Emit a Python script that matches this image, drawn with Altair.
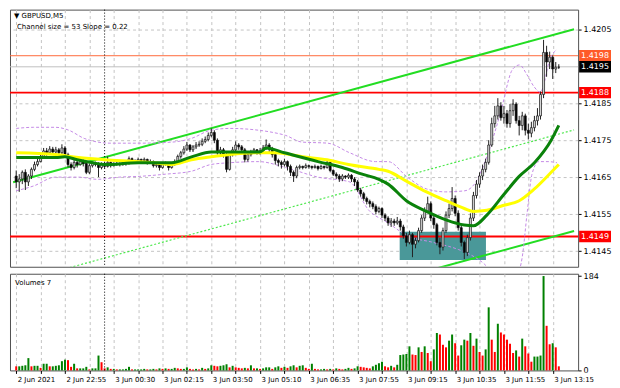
import altair as alt
import pandas as pd

# ---------------- data ----------------
x_labels = ["2 Jun 2021", "2 Jun 22:55", "3 Jun 00:30", "3 Jun 02:15", "3 Jun 03:50",
            "3 Jun 05:10", "3 Jun 06:35", "3 Jun 07:55", "3 Jun 09:15", "3 Jun 10:35",
            "3 Jun 11:55", "3 Jun 13:15"]

first_open = 1.41654
closes = [
    1.41638, 1.41646, 1.41664, 1.41638, 1.41654, 1.41672, 1.41685, 1.41693, 1.41707, 1.41722,
    1.41717, 1.41727, 1.41719, 1.41725, 1.41717, 1.41730, 1.41712, 1.41685, 1.41677, 1.41691,
    1.41685, 1.41693, 1.41688, 1.41664, 1.41682, 1.41688, 1.41685, 1.41677, 1.41685, 1.41680,
    1.41691, 1.41682, 1.41685, 1.41688, 1.41685, 1.41691, 1.41688, 1.41701, 1.41696, 1.41693,
    1.41699, 1.41696, 1.41699, 1.41691, 1.41693, 1.41682, 1.41685, 1.41677, 1.41685, 1.41688,
    1.41677, 1.41685, 1.41693, 1.41707, 1.41717, 1.41727, 1.41738, 1.41725, 1.41733, 1.41738,
    1.41740, 1.41748, 1.41753, 1.41764, 1.41772, 1.41751, 1.41717, 1.41725, 1.41712, 1.41672,
    1.41712, 1.41725, 1.41738, 1.41733, 1.41725, 1.41699, 1.41712, 1.41719, 1.41725, 1.41717,
    1.41722, 1.41730, 1.41738, 1.41727, 1.41712, 1.41696, 1.41691, 1.41685, 1.41693, 1.41680,
    1.41664, 1.41654, 1.41677, 1.41680, 1.41677, 1.41682, 1.41680, 1.41677, 1.41680, 1.41674,
    1.41680, 1.41677, 1.41691, 1.41669, 1.41659, 1.41654, 1.41646, 1.41654, 1.41651, 1.41656,
    1.41646, 1.41638, 1.41616, 1.41606, 1.41593, 1.41585, 1.41579, 1.41571, 1.41558, 1.41566,
    1.41548, 1.41540, 1.41527, 1.41532, 1.41527, 1.41532, 1.41516, 1.41492, 1.41474, 1.41495,
    1.41469, 1.41479, 1.41506, 1.41540, 1.41558, 1.41579, 1.41540, 1.41522, 1.41474, 1.41461,
    1.41506, 1.41548, 1.41566, 1.41593, 1.41553, 1.41514, 1.41474, 1.41447, 1.41487, 1.41540,
    1.41601, 1.41632, 1.41654, 1.41672, 1.41691, 1.41738, 1.41796, 1.41817, 1.41844, 1.41812,
    1.41823, 1.41796, 1.41831, 1.41849, 1.41804, 1.41791, 1.41817, 1.41778, 1.41770, 1.41785,
    1.41804, 1.41817, 1.41875, 1.41989, 1.41963, 1.41976, 1.41944, 1.41949, 1.41949]
highs = [
    1.41669, 1.41659, 1.41669, 1.41672, 1.41659, 1.41677, 1.41693, 1.41707, 1.41714, 1.41730,
    1.41730, 1.41735, 1.41733, 1.41733, 1.41730, 1.41740, 1.41735, 1.41717, 1.41691, 1.41699,
    1.41696, 1.41699, 1.41699, 1.41693, 1.41688, 1.41693, 1.41693, 1.41691, 1.41691, 1.41693,
    1.41707, 1.41693, 1.41691, 1.41693, 1.41691, 1.41696, 1.41693, 1.41707, 1.41704, 1.41699,
    1.41704, 1.41701, 1.41704, 1.41701, 1.41699, 1.41696, 1.41691, 1.41688, 1.41691, 1.41693,
    1.41691, 1.41691, 1.41699, 1.41712, 1.41722, 1.41735, 1.41746, 1.41740, 1.41738, 1.41746,
    1.41748, 1.41756, 1.41761, 1.41772, 1.41783, 1.41778, 1.41756, 1.41733, 1.41730, 1.41719,
    1.41717, 1.41733, 1.41748, 1.41743, 1.41738, 1.41730, 1.41717, 1.41725, 1.41730, 1.41727,
    1.41730, 1.41738, 1.41753, 1.41743, 1.41733, 1.41717, 1.41701, 1.41696, 1.41701, 1.41696,
    1.41685, 1.41669, 1.41682, 1.41685, 1.41682, 1.41688, 1.41685, 1.41682, 1.41685, 1.41682,
    1.41685, 1.41682, 1.41699, 1.41693, 1.41672, 1.41664, 1.41659, 1.41659, 1.41656, 1.41661,
    1.41659, 1.41651, 1.41643, 1.41622, 1.41611, 1.41598, 1.41590, 1.41585, 1.41577, 1.41571,
    1.41569, 1.41553, 1.41545, 1.41540, 1.41538, 1.41543, 1.41538, 1.41522, 1.41500, 1.41506,
    1.41500, 1.41487, 1.41514, 1.41548, 1.41569, 1.41598, 1.41585, 1.41548, 1.41527, 1.41487,
    1.41514, 1.41558, 1.41579, 1.41624, 1.41601, 1.41561, 1.41522, 1.41479, 1.41495, 1.41553,
    1.41611, 1.41643, 1.41664, 1.41685, 1.41701, 1.41751, 1.41812, 1.41844, 1.41865, 1.41854,
    1.41844, 1.41833, 1.41849, 1.41862, 1.41854, 1.41817, 1.41828, 1.41823, 1.41796, 1.41801,
    1.41817, 1.41838, 1.41883, 1.42023, 1.42007, 1.41991, 1.41981, 1.41963, 1.41957]
lows = [
    1.41621, 1.41611, 1.41632, 1.41616, 1.41627, 1.41646, 1.41667, 1.41680, 1.41691, 1.41704,
    1.41709, 1.41712, 1.41714, 1.41714, 1.41712, 1.41712, 1.41704, 1.41677, 1.41669, 1.41672,
    1.41677, 1.41682, 1.41680, 1.41659, 1.41659, 1.41677, 1.41680, 1.41651, 1.41672, 1.41674,
    1.41677, 1.41677, 1.41680, 1.41682, 1.41680, 1.41682, 1.41682, 1.41685, 1.41691, 1.41688,
    1.41691, 1.41691, 1.41693, 1.41685, 1.41688, 1.41677, 1.41677, 1.41669, 1.41674, 1.41682,
    1.41669, 1.41674, 1.41682, 1.41691, 1.41701, 1.41712, 1.41722, 1.41719, 1.41719, 1.41727,
    1.41733, 1.41735, 1.41743, 1.41748, 1.41759, 1.41743, 1.41712, 1.41707, 1.41704, 1.41664,
    1.41669, 1.41707, 1.41719, 1.41725, 1.41717, 1.41691, 1.41693, 1.41707, 1.41714, 1.41712,
    1.41712, 1.41717, 1.41725, 1.41719, 1.41704, 1.41685, 1.41680, 1.41674, 1.41680, 1.41669,
    1.41654, 1.41638, 1.41648, 1.41672, 1.41672, 1.41674, 1.41674, 1.41672, 1.41674, 1.41669,
    1.41672, 1.41672, 1.41674, 1.41664, 1.41654, 1.41646, 1.41638, 1.41640, 1.41646, 1.41646,
    1.41638, 1.41627, 1.41611, 1.41598, 1.41587, 1.41577, 1.41569, 1.41564, 1.41550, 1.41553,
    1.41540, 1.41532, 1.41519, 1.41516, 1.41519, 1.41522, 1.41506, 1.41484, 1.41463, 1.41469,
    1.41434, 1.41458, 1.41474, 1.41500, 1.41532, 1.41553, 1.41532, 1.41511, 1.41466, 1.41442,
    1.41452, 1.41500, 1.41540, 1.41558, 1.41545, 1.41506, 1.41463, 1.41429, 1.41437, 1.41479,
    1.41532, 1.41593, 1.41622, 1.41643, 1.41664, 1.41685, 1.41733, 1.41785, 1.41807, 1.41804,
    1.41796, 1.41785, 1.41785, 1.41817, 1.41796, 1.41764, 1.41778, 1.41764, 1.41753, 1.41759,
    1.41775, 1.41791, 1.41807, 1.41865, 1.41923, 1.41944, 1.41917, 1.41933, 1.41944]
volumes = [
    8, 8, 9, 10, 24, 8, 9, 9, 5, 13, 13, 8, 8, 9, 10, 18, 21, 20, 7, 13,
    4, 4, 4, 7, 2, 4, 4, 29, 16,
    4, 6, 3, 3, 2, 2, 2, 3, 7, 2, 2, 2, 2, 3, 2, 2, 3, 2, 4, 3,
    4, 3, 3, 5, 4, 3, 3, 6, 3, 2, 3, 2, 5, 3,
    4, 10, 9, 8, 9, 10, 12, 6, 9, 6, 5, 4, 5, 4, 10, 4, 4,
    3, 4, 6, 6, 3, 6, 8, 5, 7, 5, 8, 10, 6, 9, 10, 5, 3, 13,
    3, 2, 2, 3, 2, 3, 2, 4, 3, 2, 3, 5,
    3, 4, 8, 7, 6, 5, 4, 8, 11, 14, 17, 8, 6, 9, 6, 11,
    30, 31, 32, 47, 31, 30, 45, 36, 47, 34, 18, 41, 73, 70, 50, 45, 58, 70, 53, 29,
    49, 60, 58, 73, 48, 62, 36, 29, 41, 123, 60, 36, 91, 74, 70, 60, 52, 34, 39, 27,
    62, 47, 33, 17, 27, 27, 29, 184, 87, 51, 53, 45, 8]

# moving averages (bar index, price)
green_ma_bar = [0, 13, 16, 20, 25, 29, 40, 45, 51, 57.5, 64, 70, 80, 82, 88, 99, 107, 113.5,
                119, 122, 128, 134.6, 141, 147, 150, 154.4, 159.7, 165, 170, 175.5, 178]
green_ma_price = [1.41704, 1.41704, 1.41706, 1.41698, 1.41690, 1.41685, 1.41690, 1.41690, 1.41690,
                  1.41706, 1.41719, 1.41719, 1.41719, 1.41730, 1.41717, 1.41693, 1.41677, 1.41659,
                  1.41645, 1.41632, 1.41587, 1.41558, 1.41535, 1.41521, 1.41519, 1.41548, 1.41601,
                  1.41653, 1.41690, 1.41751, 1.41791]
yellow_ma_bar = [0, 13, 20.4, 29, 40, 45, 51, 57.5, 64, 70, 80, 85, 94, 102, 109, 119, 122, 128,
                 134.6, 141, 147, 150, 154.4, 159.7, 165, 170, 175.5, 178]
yellow_ma_price = [1.41717, 1.41712, 1.41704, 1.41698, 1.41693, 1.41690, 1.41685, 1.41698, 1.41706,
                   1.41712, 1.41717, 1.41717, 1.41706, 1.41698, 1.41685, 1.41672, 1.41667, 1.41640,
                   1.41611, 1.41587, 1.41566, 1.41558, 1.41561, 1.41574, 1.41587, 1.41619, 1.41664,
                   1.41685]
upper_band_bar = [0, 5.7, 12.9, 17.3, 22.3, 30.8, 40.3, 51.3, 57.5, 63.8, 70.1, 79.6, 84.3, 88.4,
                  93.7, 102.2, 109.4, 117.9, 122, 128.3, 134.6, 140.9, 147.2, 150.3, 154.4, 158.8,
                  162.9, 165.1, 167.6, 169.8, 172, 173.3, 174.8, 177.4]
upper_band_price = [1.41783, 1.41786, 1.41786, 1.41778, 1.41756, 1.41743, 1.41743, 1.41746, 1.41756,
                    1.41778, 1.41783, 1.41778, 1.41772, 1.41764, 1.41746, 1.41743, 1.41717, 1.41693,
                    1.41693, 1.41651, 1.41619, 1.41611, 1.41614, 1.41632, 1.41706, 1.41823, 1.41944,
                    1.41955, 1.41928, 1.41897, 1.41881, 1.41910, 1.41963, 1.41997]
lower_band_bar = [0, 5.7, 12.9, 20.4, 26.7, 34, 40.3, 49, 57.5, 63.8, 70.1, 79.6, 88.4, 99, 109.4,
                  115.7, 122, 128.3, 136.8, 145, 149.4, 153.5, 156.6, 161.3, 164.5, 166, 167.6,
                  169.2, 171.4, 174.5, 177.4]
lower_band_price = [1.41614, 1.41627, 1.41651, 1.41651, 1.41645, 1.41651, 1.41653, 1.41659, 1.41667,
                    1.41685, 1.41690, 1.41693, 1.41677, 1.41651, 1.41638, 1.41561, 1.41527, 1.41492,
                    1.41474, 1.41455, 1.41439, 1.41416, 1.41389, 1.41373, 1.41389, 1.41434, 1.41553,
                    1.41659, 1.41693, 1.41693, 1.41690]

# regression channel (bar index, price) end points
channel_upper_bar = [-1, 183]
channel_upper_price = [1.41637, 1.42052]
channel_lower_bar = [135, 183]
channel_lower_price = [1.41397, 1.41505]
channel_mid_bar = [15, 183]
channel_mid_price = [1.41400, 1.41779]

# horizontal levels
level_prices = [1.4198, 1.4195, 1.4188, 1.4149]
level_texts = ["1.4198", "1.4195", "1.4188", "1.4149"]
level_colors = ["#ff6a3c", "#c0c0c0", "#ff0000", "#ff0000"]
level_box_colors = ["#ff5a28", "#000000", "#ff0000", "#ff0000"]
level_widths = [1, 1, 2, 2]

# support zone rectangle
zone_bar = [125.8, 154.1]
zone_price = [1.41426, 1.41503]

day_separator_bar = [29]
price_ticks = [1.4145, 1.4155, 1.4165, 1.4175, 1.4185, 1.4205]
volume_ticks = [0, 184]

title_line1 = "\u25bc GBPUSD,M5"
title_line2 = "Channel size = 53 Slope = 0.22"
volume_title = "Volumes 7"

# ---------------- frames ----------------
n = len(closes)
opens = [first_open] + closes[:-1]
df = pd.DataFrame({"i": list(range(n)), "open": opens, "close": closes,
                   "high": highs, "low": lows, "vol": volumes})
df["dir"] = ["up" if c >= o else "down" for o, c in zip(opens, closes)]
vcol, prev = [], None
for v in volumes:
    vcol.append("#ff0000" if prev is None or v < prev else "#008000")
    prev = v
df["vcol"] = vcol

def line_df(bars, prices):
    return pd.DataFrame({"i": bars, "p": prices})

levels_df = pd.DataFrame({"p": level_prices, "t": level_texts, "c": level_colors,
                          "bc": level_box_colors, "w": level_widths})
zone_df = pd.DataFrame({"i": [zone_bar[0]], "i2": [zone_bar[1]],
                        "p": [zone_price[0]], "p2": [zone_price[1]]})
sep_df = pd.DataFrame({"i": day_separator_bar})

# ---------------- layout ----------------
W, HP, HV = 570, 258, 97
FONT = "DejaVu Sans"
xs = alt.Scale(domain=[-0.4, 182.7], nice=False, zero=False)
ys = alt.Scale(domain=[1.41408, 1.42105], nice=False, zero=False)
vs = alt.Scale(domain=[0, 188.5], nice=False, zero=False)

grid_vals = list(range(0, 177, 8))
label_js = "[" + ",".join("'" + s + "'" for s in x_labels) + "]"

x_axis_top = alt.Axis(values=grid_vals, grid=True, gridDash=[3, 3], gridColor="#c4c4c4",
                      labels=False, ticks=False, domain=False, title=None)
x_axis_bottom = alt.Axis(values=grid_vals, grid=True, gridDash=[3, 3], gridColor="#c4c4c4",
                         labelExpr="datum.value % 16 == 0 ? " + label_js + "[datum.value / 16] : ''",
                         labelAlign="left", labelFontSize=7, labelFont=FONT, labelColor="#000",
                         labelPadding=2, labelOffset=1, tickSize=3, tickColor="#000",
                         domain=False, title=None, labelOverlap=False, labelFlush=False)
y_axis = alt.Axis(orient="right", values=price_ticks, format=".4f", grid=True, gridDash=[3, 3],
                  gridColor="#c4c4c4", tickSize=3, tickColor="#000", domain=False,
                  labelFontSize=8, labelFont=FONT, labelColor="#000", labelPadding=2, title=None)
v_axis = alt.Axis(orient="right", values=volume_ticks, grid=False, tickSize=3, tickColor="#000",
                  domain=False, labelFontSize=8, labelFont=FONT, labelColor="#000",
                  labelPadding=2, title=None)

def X(f="i"):
    return alt.X(f + ":Q", scale=xs, axis=x_axis_top)

def Y(f):
    return alt.Y(f + ":Q", scale=ys, axis=y_axis)

zone = alt.Chart(zone_df).mark_rect(color="#4a9899").encode(
    x=X(), x2="i2:Q", y=Y("p"), y2="p2:Q")

hlines = alt.Chart(levels_df).mark_rule().encode(
    y=Y("p"), color=alt.Color("c:N", scale=None), strokeWidth=alt.StrokeWidth("w:Q", scale=None))

def chan(bars, prices, dash=None, width=2, color="#22dd22"):
    kw = dict(color=color, strokeWidth=width, clip=True)
    if dash:
        kw["strokeDash"] = dash
    return alt.Chart(line_df(bars, prices)).mark_line(**kw).encode(x=X(), y=Y("p"))

ch_up = chan(channel_upper_bar, channel_upper_price)
ch_lo = chan(channel_lower_bar, channel_lower_price)
ch_mid = chan(channel_mid_bar, channel_mid_price, dash=[2, 2], width=1.2, color="#4de84d")

def curve(bars, prices, color, width, dash=None):
    kw = dict(color=color, strokeWidth=width, clip=True, interpolate="monotone")
    if dash:
        kw["strokeDash"] = dash
    return alt.Chart(line_df(bars, prices)).mark_line(**kw).encode(x=X(), y=Y("p"))

band_up = curve(upper_band_bar, upper_band_price, "#c58be6", 1, [3, 2])
band_lo = curve(lower_band_bar, lower_band_price, "#c58be6", 1, [3, 2])
ma_y = curve(yellow_ma_bar, yellow_ma_price, "#ffff00", 3)
ma_g = curve(green_ma_bar, green_ma_price, "#0a820a", 3)

wicks = alt.Chart(df).mark_rule(color="#222222", strokeWidth=1).encode(
    x=X(), y=Y("low"), y2="high:Q")
bodies = alt.Chart(df).mark_bar(width=2, stroke="#111111", strokeWidth=0.7).encode(
    x=X(), y=Y("open"), y2="close:Q",
    fill=alt.Fill("dir:N", scale=alt.Scale(domain=["up", "down"], range=["#d6d6d6", "#000000"]),
                  legend=None))

sep_top = alt.Chart(sep_df).mark_rule(color="#000", strokeDash=[1, 2], strokeWidth=1).encode(x=X())

box_shape = "M-1,-0.36H1V0.36H-1Z"
boxes = alt.Chart(levels_df).mark_point(shape=box_shape, size=1024, filled=True, opacity=1,
                                        strokeWidth=0).encode(
    x=alt.value(W + 17), y=Y("p"), fill=alt.Fill("bc:N", scale=None))
box_text = alt.Chart(levels_df).mark_text(align="left", baseline="middle", color="white",
                                          fontSize=8, font=FONT).encode(
    x=alt.value(W + 3), y=Y("p"), text="t:N")

t1 = alt.Chart(pd.DataFrame({"t": [title_line1]})).mark_text(
    align="left", baseline="middle", fontSize=7, font=FONT, color="#000").encode(
    x=alt.value(4), y=alt.value(6), text="t:N")
t2 = alt.Chart(pd.DataFrame({"t": [title_line2]})).mark_text(
    align="left", baseline="middle", fontSize=7, font=FONT, color="#000").encode(
    x=alt.value(7), y=alt.value(17), text="t:N")

price_panel = alt.layer(zone, hlines, ch_mid, ch_up, ch_lo, band_up, band_lo, sep_top,
                        wicks, bodies, ma_y, ma_g, boxes, box_text, t1, t2).properties(
    width=W, height=HP)

vbars = alt.Chart(df).mark_bar(width=2).encode(
    x=alt.X("i:Q", scale=xs, axis=x_axis_bottom),
    y=alt.Y("vol:Q", scale=vs, axis=v_axis),
    fill=alt.Fill("vcol:N", scale=None))
sep_bot = alt.Chart(sep_df).mark_rule(color="#000", strokeDash=[1, 2], strokeWidth=1).encode(
    x=alt.X("i:Q", scale=xs, axis=x_axis_bottom))
vt = alt.Chart(pd.DataFrame({"t": [volume_title]})).mark_text(
    align="left", baseline="middle", fontSize=7, font=FONT, color="#000").encode(
    x=alt.value(5), y=alt.value(9), text="t:N")

volume_panel = alt.layer(vbars, sep_bot, vt).properties(width=W, height=HV)

chart = alt.vconcat(price_panel, volume_panel, spacing=3).properties(
    padding=0, background="white"
).configure_view(stroke="#505050", strokeWidth=1)

chart.save("out.html", embed_options={"renderer": "svg", "actions": False})
